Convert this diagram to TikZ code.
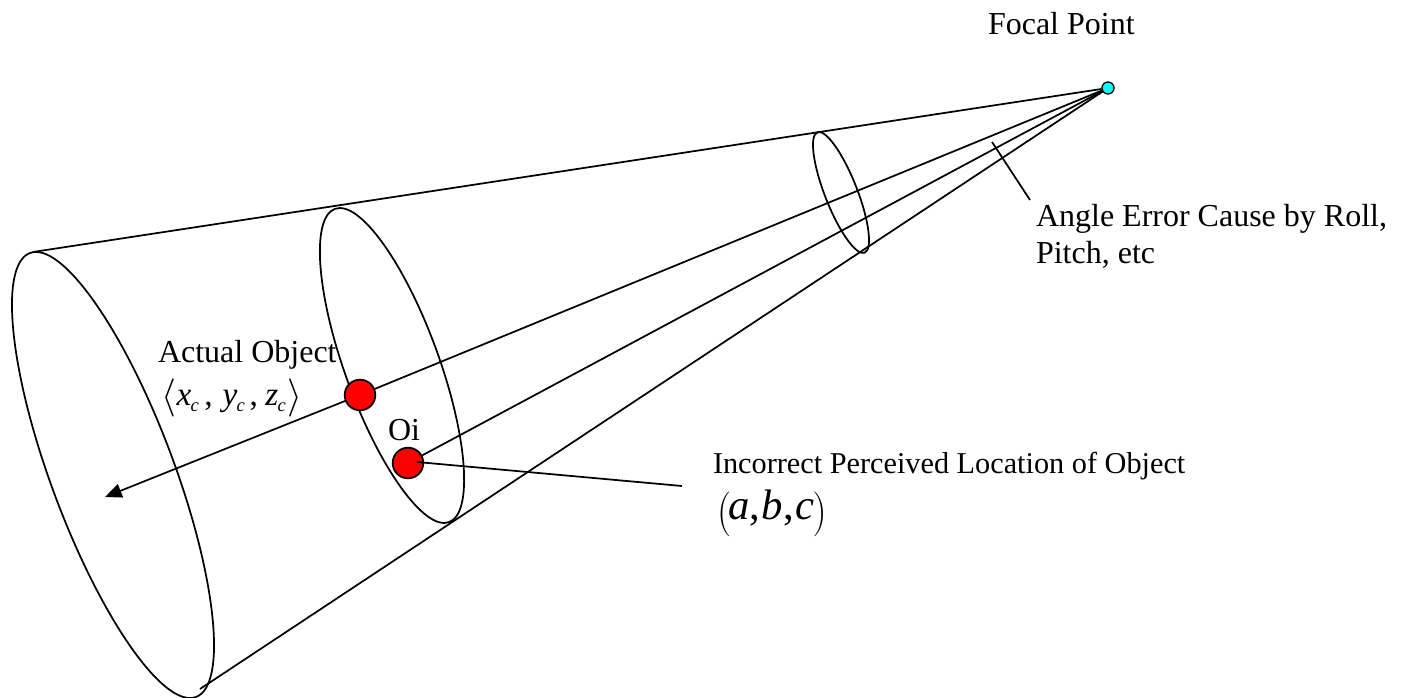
\documentclass[tikz,border=0pt]{standalone}
\usepackage{fontspec}
\usepackage{graphicx}
\setmainfont{Liberation Serif}
\usetikzlibrary{arrows.meta}
\definecolor{focalcyan}{RGB}{0,255,255}
\definecolor{dotred}{RGB}{255,0,0}
\tikzset{
  px/.style={x=0.75pt,y=-0.75pt},
  line/.style={line width=1.3pt,black},
  ring/.style={line width=1.3pt,black},
  lab/.style={inner sep=0pt,outer sep=0pt,anchor=base west,font=\fontsize{24}{28}\selectfont},
  dot/.style={circle,draw=black,line width=1.3pt,fill=dotred,minimum size=23pt,inner sep=0pt},
  focal/.style={circle,draw=black,line width=1pt,fill=focalcyan,minimum size=9pt,inner sep=0pt}
}
\newcommand{\subc}{\raisebox{-5pt}{\fontsize{14}{14}\selectfont\textit{c}}}
\begin{document}
\begin{tikzpicture}[px]
\useasboundingbox (0,0) rectangle (1402,698);
% cone rings
\draw[ring] (113,475) ellipse[x radius=61.5,y radius=237,rotate=20.5];
\draw[ring] (392,365.5) ellipse[x radius=47,y radius=166.7,rotate=20];
\draw[ring] (841,192.5) ellipse[x radius=16.2,y radius=64.7,rotate=21.4];
% nodes
\node[focal] (fp) at (1108,88) {};
\node[dot] (actual) at (360,395) {};
\node[dot] (oi) at (408,463) {};
\coordinate (topend) at (33,252);
\coordinate (botend) at (200,689);
\coordinate (tip) at (105,497);
\coordinate (oiin) at (417,462);
\coordinate (leaderend) at (682,486);
\coordinate (ae) at (992,142);
\coordinate (aeend) at (1030,200);
% connectors
\draw[line] (fp) -- (topend);
\draw[line] (fp) -- (botend);
\draw[line] (fp) -- (actual);
\draw[line] (fp) -- (oi);
\draw[line,-{Triangle[length=12.5pt,width=10.5pt]}] (actual) -- (tip);
\draw[line] (oiin) -- (leaderend);
\draw[line] (ae) -- (aeend);
% labels
\node[lab] (t1) at (988,35) {Focal Point};
\node[lab] (t2) at (1036,227) {Angle Error Cause by Roll,};
\node[lab] (t3) at (1036,264) {Pitch, etc};
\node[lab] (t4) at (158,363) {Actual Object};
\node[lab] (t5) at (388,440) {Oi};
\node[lab,font=\fontsize{22.7}{28}\selectfont] (t6) at (713,473) {Incorrect Perceived Location of Object};
\node[lab,font=\fontsize{25}{28}\selectfont] (t7) at (161,405) {\raisebox{-2pt}{\scalebox{1.15}{$\Bigg\langle$}}\kern0.5pt\textit{x}\kern-.5pt\subc\kern4pt,\kern7.5pt\textit{y}\kern-.5pt\subc\kern3.5pt,\kern5.5pt\textit{z}\kern-.5pt\subc\kern1.5pt\raisebox{-2pt}{\scalebox{1.15}{$\Bigg\rangle$}}};
\node[lab,font=\fontsize{32}{34}\selectfont] (t8) at (717,519) {\raisebox{-5pt}{\scalebox{1.2}[1.35]{$\Bigg($}}\kern-2pt\textit{a},\kern1pt\textit{b},\kern1pt\textit{c}\kern-1pt\raisebox{-5pt}{\scalebox{1.2}[1.35]{$\Bigg)$}}};
\end{tikzpicture}
\end{document}
